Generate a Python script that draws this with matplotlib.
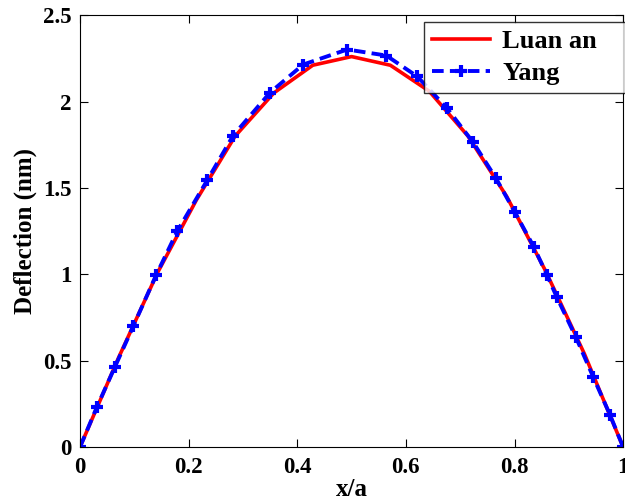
import numpy as np
import matplotlib.pyplot as plt

# Luan an (solid red)
x_luan = [0, 0.0714, 0.1429, 0.2143, 0.2857, 0.3571, 0.4286, 0.5,
          0.5714, 0.6429, 0.7143, 0.7857, 0.8571, 0.9286, 1.0]
y_luan = [0, 0.52, 1.01, 1.43, 1.80, 2.05, 2.21, 2.26,
          2.21, 2.06, 1.80, 1.45, 1.02, 0.54, 0]

# Yang (dashed blue with + markers)
x_yang = [0, 0.031, 0.064, 0.098, 0.140, 0.179, 0.234, 0.282, 0.350, 0.411,
          0.492, 0.564, 0.621, 0.676, 0.724, 0.766, 0.801, 0.836, 0.860,
          0.878, 0.913, 0.945, 0.976, 1.0]
y_yang = [0, 0.231, 0.462, 0.699, 0.994, 1.249, 1.543, 1.803, 2.052, 2.214,
          2.301, 2.266, 2.145, 1.960, 1.763, 1.555, 1.358, 1.156, 0.994,
          0.867, 0.636, 0.405, 0.185, 0]

xticks = [0, 0.2, 0.4, 0.6, 0.8, 1]
xticklabels = ['0', '0.2', '0.4', '0.6', '0.8', '1']
yticks = [0, 0.5, 1, 1.5, 2, 2.5]
yticklabels = ['0', '0.5', '1', '1.5', '2', '2.5']

plt.rcParams['font.family'] = ['Liberation Serif', 'DejaVu Serif']
plt.rcParams['font.weight'] = 'bold'

fig = plt.figure(figsize=(6.25, 5.04), dpi=100)
ax = fig.add_axes([0.128, 0.113, 0.869, 0.857])

ax.plot(x_luan, y_luan, color='red', lw=2.6, label='Luan an   ')
ax.plot(x_yang, y_yang, color='blue', lw=2.8, ls='--', dashes=(3, 1.6),
        marker='+', ms=9, mew=3, label='Yang')

ax.set_xlim(0, 1)
ax.set_ylim(0, 2.5)
ax.set_xticks(xticks)
ax.set_xticklabels(xticklabels)
ax.set_yticks(yticks)
ax.set_yticklabels(yticklabels)
ax.tick_params(direction='in', top=True, right=True, labelsize=16.5, length=6)
ax.tick_params(axis='x', pad=7)
ax.tick_params(axis='y', pad=6)
for lab in ax.get_xticklabels() + ax.get_yticklabels():
    lab.set_fontweight('bold')

ax.set_xlabel('x/a', fontsize=18, fontweight='bold', labelpad=0)
ax.set_ylabel('Deflection (nm)', fontsize=18, fontweight='bold', labelpad=4)

leg = ax.legend(loc='upper right', bbox_to_anchor=(1.003, 0.984), fontsize=19,
                frameon=True, fancybox=False, edgecolor='black',
                borderaxespad=0, handlelength=2.2, borderpad=0.3,
                labelspacing=0.3, handletextpad=0.45)
leg.get_frame().set_linewidth(1.0)
for t in leg.get_texts():
    t.set_fontweight('bold')

fig.savefig('out.png', dpi=100)
